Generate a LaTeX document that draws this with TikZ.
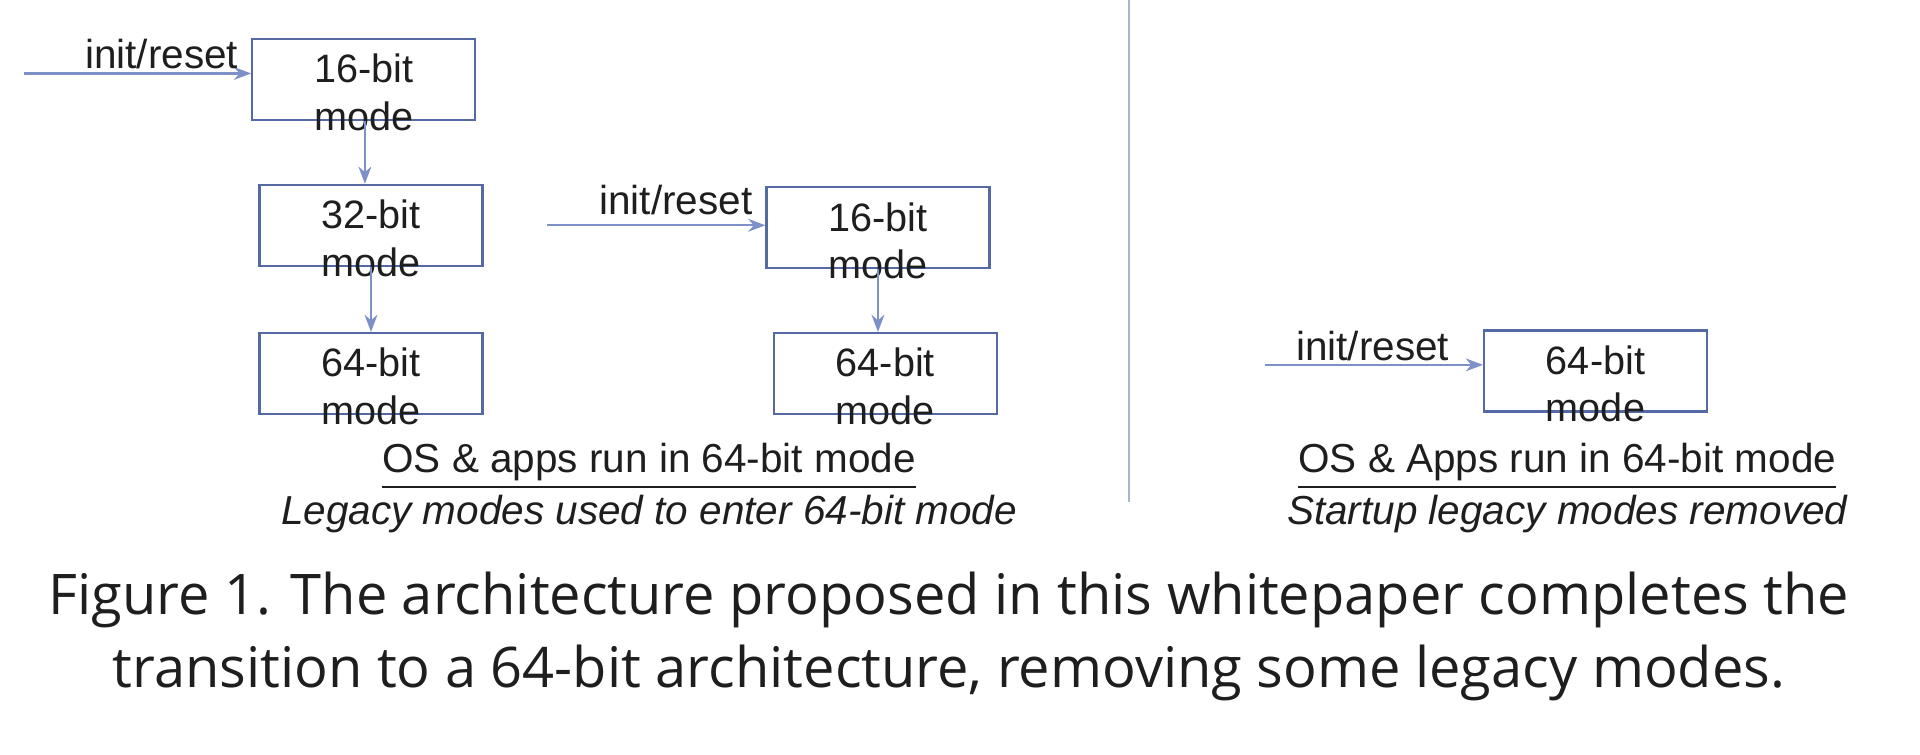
\documentclass[tikz,border=0pt]{standalone}
\usepackage{fontspec}
\setmainfont{Liberation Sans}
\newfontfamily\capfont{Open Sans}
\usetikzlibrary{arrows.meta}
\definecolor{boxc}{RGB}{85,105,165}
\definecolor{arrc}{RGB}{125,145,200}
\definecolor{txt}{RGB}{30,30,30}
\tikzset{
 modebox/.style={draw=boxc,line width=0.5pt,minimum width=1.82cm,minimum height=0.66cm,inner sep=0pt},
 boxtext/.style={align=center,font=\fontsize{9.2}{11}\selectfont,text=txt,inner sep=0pt,yshift=-3pt},
 arr/.style={draw=arrc,line width=0.5pt,-{Stealth[length=4pt,width=3pt]}},
 lab/.style={font=\fontsize{9.4}{11}\selectfont,text=txt,inner sep=0pt},
}
\begin{document}
\begin{tikzpicture}[x=0.01cm,y=-0.01cm]
\useasboundingbox (0,0) rectangle (1568,616);
\node[modebox,label={[boxtext]center:16-bit\\mode}] (a) at (297,65) {};
\node[modebox,label={[boxtext]center:32-bit\\mode}] (b) at (303,184) {};
\node[modebox,label={[boxtext]center:64-bit\\mode}] (c) at (303,305) {};
\node[modebox,label={[boxtext]center:16-bit\\mode}] (d) at (717,186) {};
\node[modebox,label={[boxtext]center:64-bit\\mode}] (e) at (723,305) {};
\node[modebox,label={[boxtext]center:64-bit\\mode}] (f) at (1303,303) {};
\coordinate (s1) at (20,60);
\coordinate (s2) at (447,184);
\coordinate (s3) at (1033,298);
\draw[arr] (s1) -- (s1 -| a.west);
\draw[arr] (s2) -- (s2 -| d.west);
\draw[arr] (s3) -- (s3 -| f.west);
\node[lab] (l1) at (132,44) {init/reset};
\node[lab] (l2) at (552,163) {init/reset};
\node[lab] (l3) at (1121,283) {init/reset};
\draw[arr] (a.south -| 298,0) -- (b.north -| 298,0);
\draw[arr] (b.south) -- (c.north);
\draw[arr] (d.south) -- (d.south |- e.north);
\draw[draw=boxc!50,line width=0.5pt] (922,0) coordinate (v1) -- (922,410) coordinate (v2);
\node[lab] (t1) at (530,381) {\underline{OS \& apps run in 64-bit mode}};
\node[lab] (t2) at (530,420) {\itshape Legacy modes used to enter 64-bit mode};
\node[lab] (t3) at (1280,381) {\underline{OS \& Apps run in 64-bit mode}};
\node[lab] (t4) at (1280,420) {\itshape Startup legacy modes removed};
\node[font=\capfont\fontsize{13}{17}\selectfont,text=txt,align=center] (cap) at (775,520) {Figure 1. The architecture proposed in this whitepaper completes the\\transition to a 64-bit architecture, removing some legacy modes.};
\end{tikzpicture}
\end{document}
